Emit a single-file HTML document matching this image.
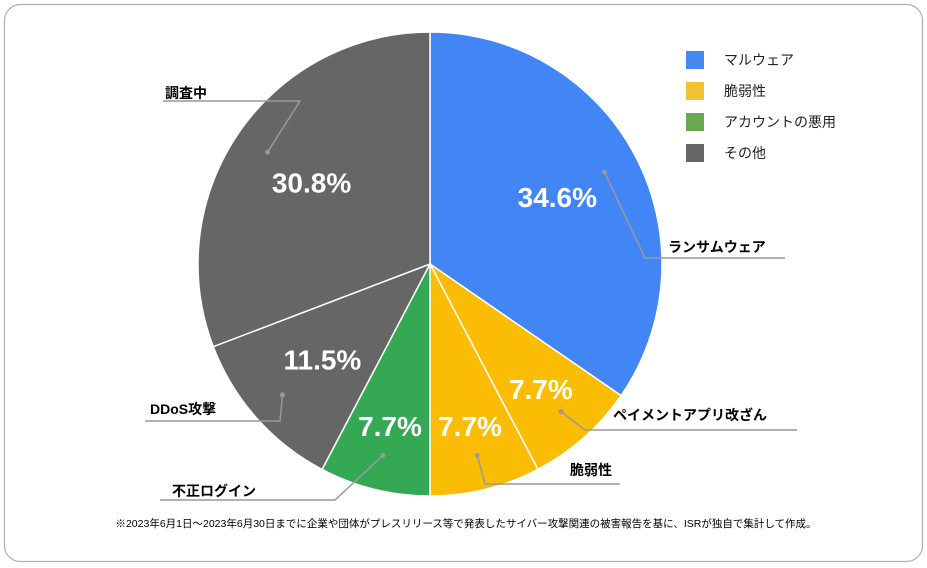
<!DOCTYPE html>
<html><head><meta charset="utf-8"><style>
body{margin:0;background:#fff;}
svg{display:block;font-family:"Liberation Sans","Noto Sans CJK JP",sans-serif;}
</style></head><body>
<svg id="chart" width="927" height="568">
<rect x="4.5" y="4.5" width="918" height="557" rx="16" fill="#fff" stroke="#b0b0b0" stroke-width="1.2"/>
<g id="slices"></g>
<g id="labels"></g>
<g id="legend"></g>
<text x="466" y="527" font-size="10.5" text-anchor="middle" fill="#000">※2023年6月1日～2023年6月30日までに企業や団体がプレスリリース等で発表したサイバー攻撃関連の被害報告を基に、ISRが独自で集計して作成。</text>
</svg>
<script>
const categories=["ランサムウェア","ペイメントアプリ改ざん","脆弱性","不正ログイン","DDoS攻撃","調査中"];
const values=[34.6,7.7,7.7,7.7,11.5,30.8];
const valueLabels=["34.6%","7.7%","7.7%","7.7%","11.5%","30.8%"];
const legendNames=["マルウェア","脆弱性","アカウントの悪用","その他"];
const legendColors=["#4688f1","#f1c232","#6aa84f","#666666"];
const sliceColors=["#4285f4","#fbbc04","#fbbc04","#34a853","#666666","#666666"];
const NS="http://www.w3.org/2000/svg";
const cx=430,cy=264,R=232;
const total=values.reduce((a,b)=>a+b,0);
function pt(a,r){return [cx+r*Math.sin(a),cy-r*Math.cos(a)];}
const sg=document.getElementById('slices'),lg=document.getElementById('labels');
let acc=0;
// callout layout: [textX,textY,lineX1,lineX2,lineY,anchor]
const callouts=[[668,252,645,785,258],[613,420,585,797,430],[570,475,485,620,484],[172,496,160,335,500],[150,414,145,280,421],[165,98,163,300,101]];
values.forEach((v,i)=>{
  const a0=acc/total*2*Math.PI;acc+=v;const a1=acc/total*2*Math.PI;
  const p0=pt(a0,R),p1=pt(a1,R);
  const p=document.createElementNS(NS,'path');
  p.setAttribute('d',`M${cx},${cy}L${p0[0]},${p0[1]}A${R},${R} 0 ${a1-a0>Math.PI?1:0} 1 ${p1[0]},${p1[1]}Z`);
  p.setAttribute('fill',sliceColors[i]);p.setAttribute('stroke','#fff');p.setAttribute('stroke-width','1.5');
  
  
  sg.appendChild(p);
  const am=(a0+a1)/2;
  const rr=v<10?0.72:0.62;
  const lp=pt(am,R*rr);
  const t=document.createElementNS(NS,'text');
  t.setAttribute('x',lp[0]);t.setAttribute('y',lp[1]+10);t.setAttribute('text-anchor','middle');
  t.setAttribute('font-size','28');t.setAttribute('font-weight','bold');t.setAttribute('fill','#fff');
  t.textContent=valueLabels[i];
  
  
  lg.appendChild(t);
  // callout
  const c=callouts[i];const dp=pt(am,R*0.85);
  const pl=document.createElementNS(NS,'polyline');
  const left=c[2]<cx;
  const joinX=left?c[3]:c[2];
  pl.setAttribute('points',`${dp[0]},${dp[1]} ${joinX},${c[4]} ${left?c[2]:c[3]},${c[4]}`);
  pl.setAttribute('fill','none');pl.setAttribute('stroke','#999');pl.setAttribute('stroke-width','1.5');
  
  
  lg.appendChild(pl);
  const d=document.createElementNS(NS,'circle');
  d.setAttribute('cx',dp[0]);d.setAttribute('cy',dp[1]);d.setAttribute('r','2.5');d.setAttribute('fill','#999');
  
  
  lg.appendChild(d);
  const ct=document.createElementNS(NS,'text');
  ct.setAttribute('x',c[0]);ct.setAttribute('y',c[1]);ct.setAttribute('font-size','14');ct.setAttribute('font-weight','bold');
  ct.textContent=categories[i];
  
  
  lg.appendChild(ct);
});
const leg=document.getElementById('legend');
legendNames.forEach((n,i)=>{
  const y=51+i*31;
  const r=document.createElementNS(NS,'rect');
  r.setAttribute('x',686);r.setAttribute('y',y);r.setAttribute('width',18);r.setAttribute('height',18);r.setAttribute('fill',legendColors[i]);
  
  
  leg.appendChild(r);
  const t=document.createElementNS(NS,'text');
  t.setAttribute('x',724);t.setAttribute('y',y+14);t.setAttribute('font-size','14');t.setAttribute('fill','#222');
  t.textContent=n;
  
  
  leg.appendChild(t);
});
</script>
</body></html>
